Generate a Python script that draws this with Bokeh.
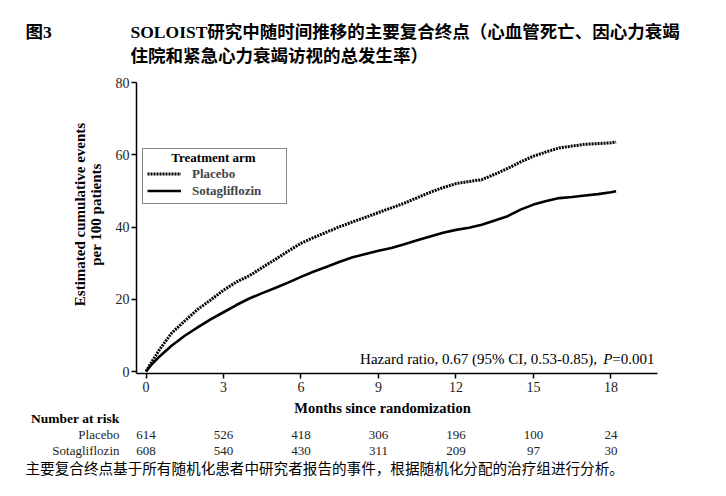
from math import pi
from bokeh.plotting import figure
from bokeh.layouts import column, row
from bokeh.models import Range1d, FixedTicker, Label, Legend, LegendItem
from bokeh.embed import file_html
from bokeh.resources import INLINE

# ---------------- data ----------------
months = [0, 0.25, 0.5, 0.75, 1, 1.5, 2, 2.5, 3, 3.5, 4, 4.5, 5, 5.5, 6, 6.5, 7, 7.5, 8,
          8.5, 9, 9.5, 10, 10.5, 11, 11.5, 12, 12.5, 13, 13.5, 14, 14.5, 15, 15.5, 16,
          16.5, 17, 17.5, 18, 18.2]
placebo = [0, 3.0, 5.8, 8.3, 10.7, 14.0, 17.2, 19.8, 22.5, 24.8, 26.5, 28.8, 31.0, 33.3,
           35.5, 37.1, 38.6, 40.1, 41.4, 42.7, 44.0, 45.3, 46.6, 48.1, 49.6, 50.9, 52.0,
           52.6, 53.1, 54.6, 56.2, 58.0, 59.6, 60.8, 61.9, 62.4, 62.9, 63.1, 63.3, 63.5]
sotagliflozin = [0, 2.2, 4.0, 5.6, 7.2, 9.9, 12.2, 14.4, 16.4, 18.4, 20.2, 21.7, 23.1, 24.6,
                 26.2, 27.7, 29.0, 30.4, 31.6, 32.5, 33.4, 34.2, 35.2, 36.3, 37.4, 38.4,
                 39.2, 39.8, 40.6, 41.8, 43.0, 44.8, 46.2, 47.2, 48.0, 48.3, 48.7, 49.1,
                 49.6, 49.9]

x_ticks = [0, 3, 6, 9, 12, 15, 18]
y_ticks = [0, 20, 40, 60, 80]
risk_placebo = [614, 526, 418, 306, 196, 100, 24]
risk_sota = [608, 540, 430, 311, 209, 97, 30]

fig_label = "图3"
title_line1 = "SOLOIST研究中随时间推移的主要复合终点（心血管死亡、因心力衰竭"
title_line2 = "住院和紧急心力衰竭访视的总发生率）"
footnote = "主要复合终点基于所有随机化患者中研究者报告的事件，根据随机化分配的治疗组进行分析。"
y_label1 = "Estimated cumulative events"
y_label2 = "per 100 patients"
x_label = "Months since randomization"
legend_title = "Treatment arm"
hr_text = "Hazard ratio, 0.67 (95% CI, 0.53-0.85),"

# ---------------- layout constants (page pixels) ----------------
W = 710
TOP_H = 75                    # title strip: page y 0..75
MID_TOP, MID_BOT = 75, 399    # main strip
BOT_BOT = 480                 # bottom strip: 399..480
LEFT_W = 110                  # y-label strip width
FRAME_L, FRAME_R = 136, 657
FRAME_T, FRAME_B = 82, 373
X0_PX, XS = 145.5, 25.83      # page x of month 0, px per month
Y0_PX, YS = 370.7, 3.6125     # page y of value 0, px per unit

SERIF = "Liberation Serif"
MIX = "Liberation Serif, Noto Sans CJK SC"
CJK = "Noto Sans CJK SC"


def dx(px):
    return (px - X0_PX) / XS


def dy(py):
    return (Y0_PX - py) / YS


def blank(width, height, xr, yr):
    f = figure(width=width, height=height, output_backend="svg", toolbar_location=None,
               x_range=xr, y_range=yr, x_axis_type=None, y_axis_type=None,
               min_border=0)
    f.outline_line_color = None
    f.grid.visible = False
    return f


def add_text(f, x, y, text, size, font=SERIF, style="normal", align="left",
             baseline="middle", angle=0, color="black", level="annotation"):
    f.add_layout(Label(x=x, y=y, text=text, text_font=font, text_font_size=size,
                       text_font_style=style, text_align=align, text_baseline=baseline,
                       angle=angle, text_color=color, level=level))


# ---------------- main plot ----------------
main_w = W - LEFT_W
p = figure(width=main_w, height=MID_BOT - MID_TOP, output_backend="svg",
           toolbar_location=None,
           x_range=Range1d(dx(FRAME_L), dx(FRAME_R)),
           y_range=Range1d(80 - (FRAME_B - FRAME_T) / YS, 80),
           min_border_left=FRAME_L - LEFT_W, min_border_right=W - FRAME_R,
           min_border_top=FRAME_T - MID_TOP, min_border_bottom=MID_BOT - FRAME_B)
p.outline_line_color = None
p.grid.visible = False

for ax in (p.xaxis[0], p.yaxis[0]):
    ax.axis_line_width = 1.5
    ax.axis_line_color = "black"
    ax.major_tick_line_width = 1.5
    ax.major_tick_line_color = "black"
    ax.major_tick_in = 0
    ax.major_tick_out = 5
    ax.minor_tick_line_color = None
    ax.major_label_text_font = SERIF
    ax.major_label_text_font_size = "14px"
    ax.major_label_text_color = "#222222"

p.xaxis.ticker = FixedTicker(ticks=x_ticks)
p.yaxis.ticker = FixedTicker(ticks=y_ticks)
p.xaxis.major_label_standoff = 3
p.yaxis.major_label_standoff = 2

r_plac = p.line(months, placebo, line_color="black", line_width=3, line_dash="2 1")
r_sota = p.line(months, sotagliflozin, line_color="black", line_width=2.6)

legend = Legend(items=[LegendItem(label="Placebo", renderers=[r_plac]),
                       LegendItem(label="Sotagliflozin", renderers=[r_sota])],
                location=(6, FRAME_B - 204), title="\u00a0",
                title_text_font=SERIF, title_text_font_size="10px", title_standoff=1,
                label_text_font=SERIF, label_text_font_style="bold",
                label_text_font_size="13px", label_height=17, label_width=90,
                glyph_height=17, glyph_width=34, label_standoff=11, spacing=0,
                padding=4, margin=0, border_line_color="#111111", border_line_width=1.5,
                background_fill_alpha=0)
p.add_layout(legend, "center")

add_text(p, dx(213), dy(157), legend_title, "13px", style="bold", align="center",
         level="overlay")

hr_right = dx(654)
add_text(p, hr_right, dy(358), "=0.001", "15px", align="right")
add_text(p, hr_right - 42.2 / XS, dy(358), "P", "15px", style="italic", align="right")
add_text(p, hr_right - (42.2 + 9.2 + 6) / XS, dy(358), hr_text, "15px", align="right")

# ---------------- left strip: y-axis title ----------------
left = blank(LEFT_W, MID_BOT - MID_TOP, Range1d(0, LEFT_W), Range1d(MID_BOT, MID_TOP))
add_text(left, 79, 222, y_label1, "15px", style="bold", align="center", angle=pi / 2)
add_text(left, 95, 222, y_label2, "15px", style="bold", align="center", angle=pi / 2)

# ---------------- top strip: titles ----------------
top = blank(W, TOP_H, Range1d(0, W), Range1d(TOP_H, 0))
add_text(top, 25, 31, fig_label, "17.5px", font=MIX, style="bold")
add_text(top, 130, 31, title_line1, "17.5px", font=MIX, style="bold")
add_text(top, 130, 55, title_line2, "17.5px", font=MIX, style="bold")

# ---------------- bottom strip: x title, risk table, footnote ----------------
bot = blank(W, BOT_BOT - MID_BOT, Range1d(dx(0), dx(W)), Range1d(BOT_BOT, MID_BOT))
add_text(bot, dx(382), 407, x_label, "14.5px", style="bold", align="center")
add_text(bot, dx(119), 418, "Number at risk", "13.5px", style="bold", align="right")
add_text(bot, dx(119), 434, "Placebo", "13px", align="right", color="#222222")
add_text(bot, dx(119), 450, "Sotagliflozin", "13px", align="right", color="#222222")
for m, a, b in zip(x_ticks, risk_placebo, risk_sota):
    add_text(bot, m, 434, str(a), "13px", align="center", color="#222222")
    add_text(bot, m, 450, str(b), "13px", align="center", color="#222222")
add_text(bot, dx(25), 467, footnote, "14.6px", font=CJK)

layout = column(top, row(left, p), bot)
open("out.html", "w").write(file_html(layout, INLINE))
